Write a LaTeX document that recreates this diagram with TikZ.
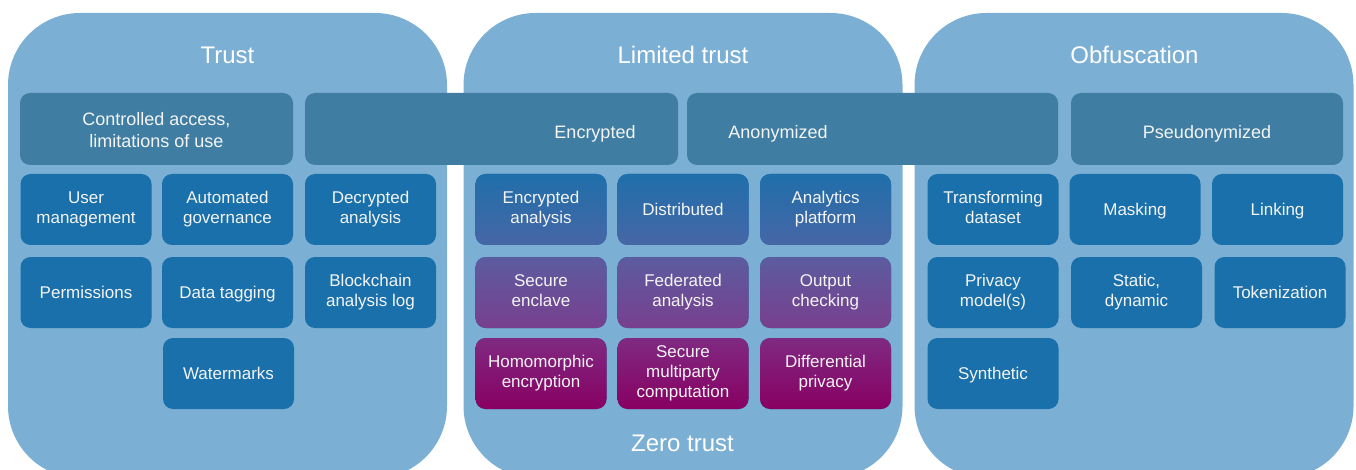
\documentclass[tikz,border=0pt]{standalone}
\usepackage{fontspec}
\setmainfont{Liberation Sans}
\definecolor{panelblue}{HTML}{7BAFD4}
\definecolor{barblue}{HTML}{3F7EA2}
\definecolor{boxblue}{HTML}{1A70AA}
\definecolor{txt}{HTML}{F4F4F4}
\definecolor{zt1}{HTML}{1F6FAA}
\definecolor{zt2}{HTML}{4766A6}
\definecolor{zt3}{HTML}{5C5CA0}
\definecolor{zt4}{HTML}{783F8E}
\definecolor{zt5}{HTML}{7F2A82}
\definecolor{zt6}{HTML}{880062}
% line box strut, so text is centred on its line box and not on its ink
\newcommand\lnstrut{\rule[-0.212em]{0pt}{1.117em}}
\tikzstyle{panel} = [fill=panelblue, rounded corners=72pt, inner sep=0,
   minimum width=439pt, minimum height=465pt]
\tikzstyle{heading} = [text=white, font=\fontsize{24}{28}\selectfont]
\tikzstyle{hbar} = [fill=barblue, rounded corners=10pt, inner sep=0,
   minimum height=72pt]
\tikzstyle{hbartext} = [text=txt, align=center, font=\fontsize{18}{21.6}\selectfont,
   yshift=-3pt, execute at begin node=\lnstrut, execute at end node=\lnstrut]
\tikzstyle{box} = [fill=boxblue, rounded corners=10pt, inner sep=0,
   minimum width=131pt, minimum height=71pt,
   text=txt, align=center, font=\fontsize{17}{20}\selectfont,
   execute at begin node=\lnstrut, execute at end node=\lnstrut]
\tikzstyle{ztA} = [box, top color=zt1, bottom color=zt2]
\tikzstyle{ztB} = [box, top color=zt3, bottom color=zt4]
\tikzstyle{ztC} = [box, top color=zt5, bottom color=zt6]

\begin{document}
\begin{tikzpicture}[x=1pt, y=-1pt]
  \clip (0,0) rectangle (1356,470);

  % three big panels, cut off at the bottom
  \node[panel] (trust) at (227.5,245.5) {};
  \node[panel] (limited) at (683,245.5) {};
  \node[panel] (obf) at (1134,245.5) {};

  \node[heading] (ttrust) at (227.5,55) {Trust};
  \node[heading] (tlimited) at (683,55) {Limited trust};
  \node[heading] (tobf) at (1134.5,55) {Obfuscation};
  \node[heading] (tzero) at (682.5,443) {Zero trust};

  % header bars (the middle two span across panels)
  \node[hbar, minimum width=273pt] (ctrl) at (156.5,129) {};
  \node[hbartext] (ctrltxt) at (ctrl) {Controlled access,\\limitations of use};
  \node[hbar, minimum width=373pt] (enc) at (491.5,129) {};
  \node[hbartext] (enctxt) at (595,129) {Encrypted};
  \node[hbar, minimum width=371pt] (anon) at (872.5,129) {};
  \node[hbartext] (anontxt) at (778,129) {Anonymized};
  \node[hbar, minimum width=272pt] (pseudo) at (1207,129) {};
  \node[hbartext] (pseudotxt) at (pseudo) {Pseudonymized};

  % trust
  \node[box] (user) at (86,209.5) {User\\management};
  \node[box] (gov) at (227.5,209.5) {Automated\\governance};
  \node[box] (dec) at (370.5,209.5) {Decrypted\\analysis};
  \node[box] (perm) at (86,292.5) {Permissions};
  \node[box] (tag) at (227.5,292.5) {Data tagging};
  \node[box] (chain) at (370.5,292.5) {Blockchain\\analysis log};
  \node[box] (water) at (228.5,373.5) {Watermarks};

  % limited trust -> zero trust, colour runs top to bottom
  \node[ztA] (encan) at (541,209.5) {Encrypted\\analysis};
  \node[ztA] (dist) at (683,209.5) {Distributed};
  \node[ztA] (platf) at (825.5,209.5) {Analytics\\platform};
  \node[ztB] (encl) at (541,292.5) {Secure\\enclave};
  \node[ztB] (fed) at (683,292.5) {Federated\\analysis};
  \node[ztB] (outp) at (825.5,292.5) {Output\\checking};
  \node[ztC] (homo) at (541,373.5) {Homomorphic\\encryption};
  \node[ztC] (smpc) at (683,373.5) {Secure\\multiparty\\computation};
  \node[ztC] (diff) at (825.5,373.5) {Differential\\privacy};

  % obfuscation
  \node[box] (transf) at (993,209.5) {Transforming\\dataset};
  \node[box] (mask) at (1135,209.5) {Masking};
  \node[box] (link) at (1277.5,209.5) {Linking};
  \node[box] (priv) at (993,292.5) {Privacy\\model(s)};
  \node[box] (stat) at (1136.5,292.5) {Static,\\dynamic};
  \node[box] (token) at (1280,292.5) {Tokenization};
  \node[box] (synth) at (993,373.5) {Synthetic};
\end{tikzpicture}
\end{document}
